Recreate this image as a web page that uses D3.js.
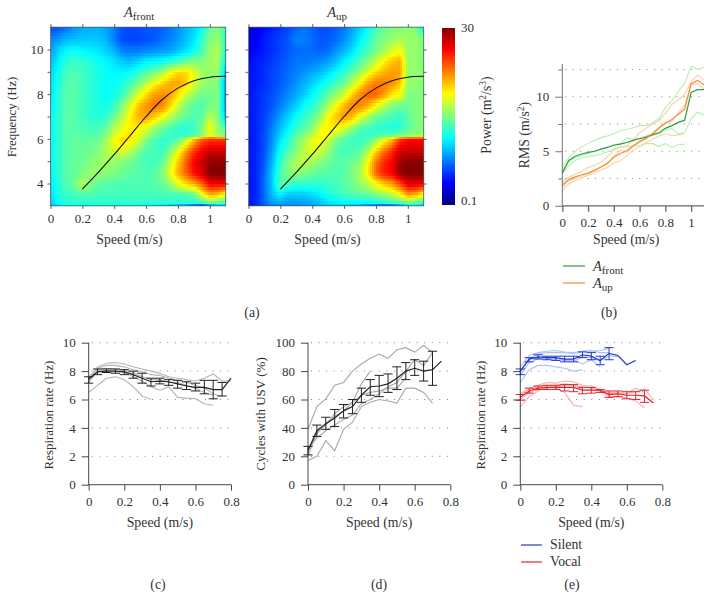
<!DOCTYPE html>
<html><head><meta charset="utf-8">
<script src="https://cdn.jsdelivr.net/npm/d3@7"></script>
<style>html,body{margin:0;padding:0;background:#fff}svg{display:block}text{font-family:"Liberation Serif",serif;fill:#333}</style>
</head><body><svg id="c" width="713" height="599"></svg>
<script>
// ---- Heat maps: colour level (percent of the log colour bar) by frequency row and speed column
const heatSpeeds = d3.range(0, 23).map(i => i * 0.05);
const heatFreqs = [11,10.5,10,9.5,9,8.5,8,7.5,7,6.5,6.2,6,5.5,5,4.5,4,3.5,3.2,3];
const levelsFront = [
[20,21,24,27,29,30,30,29,25,20,19,20,21,21,22,24,27,30,33,38,48,50,42],
[25,27,30,31,32,32,32,30,25,20,19,19,20,21,23,25,28,31,35,42,50,52,42],
[28,33,37,38,37,36,35,33,30,25,24,24,25,26,27,28,31,34,38,44,52,55,40],
[30,36,41,43,42,41,39,37,35,32,31,33,36,37,38,40,43,46,50,50,53,54,36],
[32,39,44,45,44,42,40,38,37,37,38,41,45,48,53,61,66,66,60,53,52,52,30],
[33,40,45,46,44,42,40,38,38,40,44,49,56,62,67,71,72,68,59,53,51,50,27],
[34,41,46,46,44,42,40,38,39,43,50,59,66,72,74,72,65,57,52,48,49,50,27],
[35,41,46,46,44,42,40,39,43,50,59,68,73,76,75,67,57,50,46,45,49,50,27],
[36,42,46,46,44,42,41,42,48,55,63,70,72,68,62,55,50,47,45,47,56,50,30],
[36,42,46,46,45,44,44,47,55,60,64,63,60,53,48,45,42,41,43,50,62,52,46],
[36,42,46,46,46,45,46,50,58,63,65,61,55,49,45,43,43,42,44,50,60,52,48],
[36,42,46,47,47,47,48,53,62,67,65,60,50,45,42,42,45,55,68,78,82,82,82],
[36,42,46,47,48,48,50,55,58,60,56,50,45,44,43,50,60,72,82,88,92,92,92],
[36,42,46,47,48,50,52,53,52,50,48,46,44,44,46,56,68,78,88,93,98,98,98],
[35,42,46,47,50,52,52,51,50,48,47,46,45,46,50,60,70,78,87,92,100,100,100],
[34,41,45,48,55,50,47,46,45,45,45,45,45,46,47,52,60,66,70,78,88,88,88],
[33,40,43,44,45,45,44,44,44,44,44,44,44,44,44,44,44,45,47,60,70,68,60],
[32,38,41,42,42,42,42,42,42,42,42,42,42,42,42,42,42,42,42,44,50,48,44],
[30,35,38,38,38,38,38,38,38,38,38,38,36,35,33,30,28,24,18,12,22,28,30]];
const levelsUp = [
[8,10,13,15,17,19,22,24,22,20,20,22,24,28,33,38,44,48,50,50,52,50,36],
[10,12,15,17,19,21,25,25,23,21,21,23,26,31,36,41,47,50,52,54,52,52,50],
[12,13,15,17,19,21,23,23,23,22,23,27,30,34,40,44,49,53,58,62,52,52,50],
[13,15,16,18,20,22,24,24,25,26,28,31,36,40,45,50,56,63,68,70,52,52,50],
[14,15,17,19,21,23,25,27,29,31,34,38,42,47,52,60,66,70,72,72,52,52,50],
[14,15,17,19,21,24,27,30,33,37,40,44,48,56,64,72,76,76,74,68,52,52,50],
[14,16,18,20,23,26,29,33,37,41,47,52,58,67,74,78,78,72,64,62,50,50,50],
[14,16,18,21,25,29,33,38,41,46,54,62,70,75,75,70,62,55,50,48,48,50,50],
[14,16,19,23,28,33,38,42,46,52,62,68,72,70,60,54,48,46,44,42,46,50,50],
[14,16,19,25,31,36,42,46,50,60,64,64,60,52,46,44,42,41,40,42,46,50,50],
[14,16,20,26,33,39,46,50,55,63,62,56,50,46,43,43,44,46,46,48,50,52,52],
[14,16,20,26,35,41,48,54,60,64,58,50,46,44,43,44,50,60,68,82,87,87,87],
[14,16,20,28,38,44,50,56,60,58,52,46,44,44,46,54,66,76,83,92,92,92,92],
[14,16,21,30,42,50,55,56,54,51,48,46,46,48,52,62,76,84,88,97,99,99,99],
[14,16,22,32,44,50,52,50,48,46,46,45,46,50,54,64,78,85,88,98,100,100,100],
[14,16,23,32,46,44,42,42,42,42,43,44,46,48,52,56,62,68,72,80,90,90,88],
[14,16,23,31,36,32,32,32,34,36,40,42,44,45,46,47,50,52,55,62,72,70,60],
[14,16,22,28,30,28,28,29,30,32,35,36,38,38,38,38,40,42,44,46,50,48,44],
[13,15,20,24,26,26,26,27,28,30,31,32,32,30,28,24,20,16,18,24,32,32,28]];
const fitSpeed = [0.2,0.3,0.4,0.5,0.6,0.7,0.8,0.9,1.0,1.1];
const fitFreq = [3.75,4.5,5.3,6.15,7.0,7.75,8.27,8.6,8.76,8.8];

// ---- Panel (b) RMS
const rmsSpeed = d3.range(0, 23).map(i => i * 0.05);
const rmsFront = [3.0,4.15,4.55,4.75,4.9,5.0,5.2,5.35,5.55,5.65,5.8,6.0,6.15,6.3,6.5,6.7,7.1,7.35,7.65,7.85,10.4,10.65,10.65];
const rmsFrontLight = [
[3.6,4.4,5.0,5.4,5.7,6.0,6.25,6.4,6.6,6.9,7.0,7.15,7.35,7.35,7.6,8.0,9.0,9.6,10.5,11.2,12.8,12.5,12.7],
[2.9,3.7,4.15,4.4,4.5,4.6,4.75,4.95,5.2,5.4,5.4,5.5,5.5,5.7,5.7,5.45,5.7,5.35,5.6,5.65],
[3.3,4.0,4.4,4.6,4.8,5.0,5.2,5.4,5.6,5.7,6.2,6.1,6.2,6.4,6.6,6.6,6.9,7.1,6.6,6.7,8.0,8.6,8.3]];
const rmsUp = [1.9,2.4,2.65,2.85,3.0,3.25,3.55,3.9,4.45,4.8,5.05,5.5,5.9,6.2,6.6,7.15,7.55,7.9,8.4,8.85,11.2,11.5,11.1];
const rmsUpLight = [
[2.2,2.6,2.9,3.15,3.5,3.7,4.0,4.5,5.1,5.4,5.5,6.0,6.7,7.1,7.5,7.8,8.5,9.3,9.7,10.2,11.4,12,11.5],
[1.4,2.0,2.3,2.55,2.8,3.0,3.3,3.5,3.95,4.1,4.6,5.1,5.4,5.8,6.1,6.4,6.6,6.45,6.5,6.6],
[1.7,2.3,2.5,2.7,2.95,3.2,3.55,3.85,4.5,5.1,4.9,5.4,5.8,6.1,6.5,7.0,7.7,7.7,8.5,9.2,11.1,11.2,10.7]];

// ---- Panel (c) respiration rate
const stepSpeed = d3.range(0, 17).map(i => i * 0.05);
const respMean = [7.45,7.95,8.0,8.0,7.95,7.75,7.5,7.25,7.3,7.25,7.1,6.95,6.85,6.85,6.7,6.7,7.5];
const respLow = [7.15,7.75,7.9,7.85,7.75,7.5,7.15,6.95,7.1,7.0,6.8,6.7,6.6,6.4,6.05,6.25];
const respHigh = [7.6,8.15,8.15,8.15,8.1,8.0,7.85,7.5,7.5,7.4,7.35,7.25,7.15,7.35,7.35,7.2];
const respGrey = [
[6.5,7.0,7.5,7.6,7.4,6.9,6.25,6.0],
[7.2,8.0,8.05,8.0,7.9,7.6,7.3,6.9,6.65,6.9,6.15,6.1,6.05,5.7,5.6],
[7.5,8.3,8.55,8.6,8.5,8.3,8.15,8.0,7.85,7.6,7.5,7.4,7.3,7.5,7.8,7.3,7.3],
[7.6,8.2,8.4,8.4,8.3,8.1,7.95,7.75,7.7,7.5,7.35,7.2,7.0,6.8,6.4,6.2],
[7.4,8.1,8.2,8.15,8.05,7.9,7.6,7.4,7.4,7.2,7.2,7.0,6.8,6.5,6.3]];

// ---- Panel (d) cycles with USV
const usvMean = [24,38,43,47,52,55,63,69,69.5,71,75,80,82,80,81,87];
const usvLow = [21,34,39,41,47,50,58,63,62,65,67,74,77,73,70];
const usvHigh = [27,42,47.5,53,56.5,60,68,74,77,78,83,86,88,87,94];
const usvGrey = [
[39,55,60.5,70,72,80,85,89,92,89,95,96.5,93.4,98,93],
[17,20,31,24,39,44,55,58,60,59,57.5,68,68,65,57.5],
[20,37,42,50,55,58,71,80],
[25,33,38,42,46,49,57,60,64,69,72,80,88,84,93],
[24,36,43,48,52,58,63,65,66,68,68,75]];

// ---- Panel (e) silent and vocal
const silentMean = [8.0,8.85,9.0,8.95,8.95,8.85,8.85,9.15,9.05,8.75,9.25,9.1,8.45,8.75];
const silentLow = [7.75,8.65,8.85,8.8,8.75,8.65,8.65,8.95,8.8,8.45,8.8];
const silentHigh = [8.15,8.95,9.15,9.05,9.05,9.05,9.05,9.35,9.3,9.05,9.65];
const silentLight = [
[7.2,8.1,8.4,8.4,8.3,8.2,8.0,8.1],
[7.9,8.9,9.2,9.3,9.3,9.3,9.2,9.4,9.45,9.3,9.3],
[8.3,9.1,9.3,9.4,9.45,9.35,9.3,9.4,9.4,9.45,9.6],
[7.7,8.6,8.85,8.9,8.9,8.8,8.8,8.5,8.8,8.3],
[8.0,8.8,8.95,8.85,8.8,8.75,8.7,9.0,8.95,8.7,9.1,9.0]];
const vocalMean = [6.15,6.6,6.8,6.85,6.85,6.85,6.85,6.65,6.65,6.65,6.35,6.4,6.3,6.3,6.25,5.75];
const vocalLow = [5.95,6.45,6.7,6.7,6.7,6.6,6.55,6.4,6.45,6.5,6.15,6.2,6.05,6.0,5.8];
const vocalHigh = [6.35,6.8,6.95,7.0,7.0,7.05,7.05,6.85,6.85,6.7,6.6,6.6,6.55,6.55,6.65];
const vocalLight = [
[5.5,6.2,6.6,7.0,6.8,6.5,5.6,5.5],
[6.4,6.8,7.0,7.2,7.15,7.3,7.25,7.0,6.95,6.7,6.5,6.5,6.4,6.8,6.5],
[6.0,6.5,6.7,6.8,6.9,7.0,7.0,6.7,6.7,6.6,6.2,6.2,6.1,5.9,5.4],
[6.3,6.7,6.9,7.0,7.0,7.1,7.0,6.9,6.8,6.65,6.4,6.5,6.4,6.55,6.75,6.0]];

// ---- Labels
const speedTicksHeat = [0,0.2,0.4,0.6,0.8,1];
const speedTicksStep = [0,0.2,0.4,0.6,0.8];
const colourStops = [0,0.125,0.375,0.625,0.875,1];
const colourNames = ['#00007f','#0000ff','#00ffff','#ffff00','#ff0000','#7f0000'];

const svg = d3.select('#c');
const jet = d3.scaleLinear().domain(colourStops).range(colourNames).clamp(true);
const AX = '#333', FS = 13.8, TS = 13, YS = 12.9;

function txt(g, x, y, s, o = {}) {
  const t = g.append('text').attr('x', x).attr('y', y).attr('font-size', o.size || FS)
    .attr('text-anchor', o.anchor || 'middle').text(s);
  if (o.rotate) t.attr('transform', `rotate(-90 ${x} ${y})`);
  return t;
}
function sym(g, x, y, sub, o = {}) {
  const t = g.append('text').attr('x', x).attr('y', y).attr('font-size', 14.5).attr('text-anchor', o.anchor || 'middle');
  t.append('tspan').attr('font-style', 'italic').text('A');
  t.append('tspan').attr('font-size', 11).attr('dy', 3).text(sub);
}
function styleAxis(g, w = 0.9, color = AX) {
  g.selectAll('path,line').attr('stroke', color).attr('stroke-width', w);
  g.selectAll('text').attr('font-size', TS).attr('fill', '#333').attr('font-family', '"Liberation Serif",serif');
}
function heat(x0, levels, title, withY) {
  const x = d3.scaleLinear().domain([0, 1]).range([x0, x0 + 159.3]);
  const y = d3.scaleLinear().domain([4, 10]).range([183.5, 49.5]);
  const g = svg.append('g');
  const left = x(0), right = x(1.1), top = y(11), bot = y(3);
  const sx = d3.scaleLinear().domain(heatSpeeds).range(d3.range(heatSpeeds.length));
  const sf = d3.scaleLinear().domain(heatFreqs).range(d3.range(heatFreqs.length));
  const level = (s, f) => {
    const a = sx(s), b = sf(f), i = Math.min(Math.floor(a), heatSpeeds.length - 2), j = Math.min(Math.floor(b), heatFreqs.length - 2);
    const u = a - i, v = b - j;
    return (levels[j][i] * (1 - u) + levels[j][i + 1] * u) * (1 - v) + (levels[j + 1][i] * (1 - u) + levels[j + 1][i + 1] * u) * v;
  };
  const dS = 0.0125, dF = 0.125, cells = [];
  d3.range(0, 88).forEach(i => d3.range(0, 64).forEach(j => cells.push({ s: i * dS, f: 3 + j * dF })));
  g.append('g').attr('shape-rendering', 'crispEdges').selectAll('rect').data(cells).join('rect')
    .attr('x', d => x(d.s)).attr('y', d => y(d.f + dF))
    .attr('width', x(dS) - x(0) + 0.6).attr('height', y(3) - y(3 + dF) + 0.6)
    .attr('fill', d => jet(level(d.s + dS / 2, d.f + dF / 2) / 100));
  g.append('rect').attr('x', left).attr('y', top).attr('width', right - left).attr('height', bot - top).attr('fill', 'none').attr('stroke', '#4a5a55').attr('stroke-width', 0.8);
  g.append('path').datum(fitSpeed.map((s, i) => [s, fitFreq[i]]))
    .attr('d', d3.line().x(d => x(d[0])).y(d => y(d[1])).curve(d3.curveCatmullRom)).attr('fill', 'none').attr('stroke', '#111').attr('stroke-width', 1.1);
  const xa = d3.scaleLinear().domain([0, 1.1]).range([left, right]);
  const ya = d3.scaleLinear().domain([3, 11]).range([bot, top]);
  const b = g.append('g').attr('transform', `translate(0,${bot})`).call(d3.axisBottom(xa).tickValues(speedTicksHeat).tickFormat(d3.format('~g')).tickSize(3).tickPadding(5));
  const t = g.append('g').attr('transform', `translate(0,${top})`).call(d3.axisTop(xa).tickValues(speedTicksHeat).tickFormat('').tickSize(3));
  const l = g.append('g').attr('transform', `translate(${left},0)`).call(d3.axisLeft(ya).tickValues(d3.range(4, 11)).tickFormat(withY ? (d => d % 2 ? '' : d) : '').tickSize(3).tickPadding(4));
  const r = g.append('g').attr('transform', `translate(${right},0)`).call(d3.axisRight(ya).tickValues(d3.range(4, 11)).tickFormat('').tickSize(3));
  [b, t, l, r].forEach(a => { styleAxis(a, 0.8); a.select('.domain').remove(); });
  txt(g, x0 + 79, 244, 'Speed (m/s)');
  sym(g, (left + right) / 2 + 1, 17, title);
}
heat(50.5, levelsFront, 'front', true);
heat(248.5, levelsUp, 'up', false);
txt(svg, 16, 117, 'Frequency (Hz)', { rotate: true, size: 12.8 });

// colour bar
const cbY = d3.scaleLinear().domain([0, 1]).range([205, 28]);
const cb = svg.append('g');
cb.append('g').attr('shape-rendering', 'crispEdges').selectAll('rect').data(d3.range(0, 1, 1 / 177)).join('rect')
  .attr('x', 442).attr('width', 13.3).attr('y', d => cbY(d) - 1.4).attr('height', 1.6).attr('fill', d => jet(d));
const cbScale = d3.scaleLog().domain([0.1, 30]).range([205, 28]);
[0.1, 30].forEach(v => txt(cb, 461, cbScale(v) + (v === 30 ? 4 : 0), v, { anchor: 'start', size: TS }));
{
  const t = txt(svg, 491, 115, '', { rotate: true });
  t.append('tspan').text('Power (m');
  t.append('tspan').attr('font-size', 9.5).attr('dy', -5).text('2');
  t.append('tspan').attr('dy', 5).text('/s');
  t.append('tspan').attr('font-size', 9.5).attr('dy', -5).text('3');
  t.append('tspan').attr('dy', 5).text(')');
}

// Line panels
function panel(o) {
  const x = d3.scaleLinear().domain(o.xDomain).range(o.xRange);
  const y = d3.scaleLinear().domain(o.yDomain).range(o.yRange);
  const g = svg.append('g');
  g.append('g').selectAll('line').data(o.grid).join('line')
    .attr('x1', x(0) + 3).attr('x2', o.xRange[1]).attr('y1', d => y(d)).attr('y2', d => y(d))
    .attr('stroke', '#808080').attr('stroke-width', 1).attr('stroke-dasharray', `1 ${o.gap}`);
  const line = d3.line().x(d => x(d[0])).y(d => y(d[1]));
  const pts = (arr, xs) => arr.map((v, i) => [xs[i], v]);
  o.light.forEach(s => s.rows.forEach(r => g.append('path').datum(pts(r, o.xs)).attr('d', line)
    .attr('fill', 'none').attr('stroke', s.color).attr('stroke-width', 1.1)));
  o.main.forEach(s => {
    g.append('path').datum(pts(s.values, o.xs)).attr('d', line).attr('fill', 'none').attr('stroke', s.color).attr('stroke-width', s.width || 1.2);
    if (s.low) {
      const eb = g.append('g').attr('stroke', s.color).attr('stroke-width', 1);
      s.low.forEach((lo, i) => {
        const X = x(o.xs[i]), hi = s.high[i];
        eb.append('line').attr('x1', X).attr('x2', X).attr('y1', y(lo)).attr('y2', y(hi));
        [lo, hi].forEach(v => eb.append('line').attr('x1', X - 4.6).attr('x2', X + 4.6).attr('y1', y(v)).attr('y2', y(v)));
      });
    }
  });
  const ya = g.append('g').attr('transform', `translate(${x(0)},0)`).call(d3.axisLeft(y).tickValues(o.yTicks).tickSize(o.yTick).tickPadding(6));
  styleAxis(ya, 0.9, o.axisColor || AX);
  ya.select('.domain').attr('d', `M0,${o.yRange[0]}V${o.yRange[1]}`);
  if (o.minor) g.append('g').attr('transform', `translate(${x(0)},0)`).call(d3.axisLeft(y).tickValues(o.minor).tickSize(4).tickFormat('')).call(a => { a.select('.domain').remove(); styleAxis(a, 0.9, o.axisColor || AX); });
  const xa = g.append('g').attr('transform', `translate(0,${y(0)})`).call(d3.axisBottom(x).tickValues(o.xTicks).tickFormat(d3.format('~g')).tickSize(6).tickPadding(6));
  styleAxis(xa, o.xw || 0.9, o.axisColor || AX);
  xa.select('.domain').attr('d', `M${o.xRange[0]},0H${o.xRange[1]}`);
  txt(g, (o.xRange[0] + o.xRange[1]) / 2 - (o.xlabDx || 0), o.xlabY, 'Speed (m/s)');
  return g;
}
const gb = panel({
  xDomain: [0, 1.1], xRange: [562.3, 704], yDomain: [0, 13], yRange: [205.8, 64], xs: rmsSpeed, gap: 6.4,
  grid: [2.5, 5, 7.5, 10, 12.5], yTicks: [0, 5, 10], minor: [2.5, 7.5, 12.5], yTick: 7, xTicks: speedTicksHeat, xw: 1.3, axisColor: '#666', xlabY: 244, xlabDx: 7,
  light: [{ color: '#b6f0b0', rows: rmsFrontLight }, { color: '#f9cfa6', rows: rmsUpLight }],
  main: [{ color: '#2f9a3f', values: rmsFront }, { color: '#ee8f3a', values: rmsUp }]
});
{
  const t = txt(svg, 529, 135, '', { rotate: true });
  t.append('tspan').text('RMS (m/s');
  t.append('tspan').attr('font-size', 9.5).attr('dy', -5).text('2');
  t.append('tspan').attr('dy', 5).text(')');
}
const legend = (g, x1, x2, y, color) => g.append('line').attr('x1', x1).attr('x2', x2).attr('y1', y).attr('y2', y).attr('stroke', color).attr('stroke-width', 1.2);
legend(svg, 563, 585, 266, '#2f9a3f');
legend(svg, 563, 585, 283, '#ee8f3a');
sym(svg, 593, 271, 'front', { anchor: 'start' });
sym(svg, 593, 288, 'up', { anchor: 'start' });

const respCommon = { xDomain: [0, 0.8], yDomain: [0, 10], yRange: [484.7, 342.7], grid: [2, 4, 6, 8, 10], yTicks: [0, 2, 4, 6, 8, 10], yTick: 7, xTicks: speedTicksStep, xlabY: 527, xs: stepSpeed, gap: 6.55 };
panel({ ...respCommon, xRange: [88.7, 231],
  light: [{ color: '#b5b5b5', rows: respGrey }],
  main: [{ color: '#222', values: respMean, low: respLow, high: respHigh }] });
txt(svg, 53, 415, 'Respiration rate (Hz)', { rotate: true, size: YS });
panel({ ...respCommon, xRange: [308, 450.3], yDomain: [0, 100], grid: [20, 40, 60, 80, 100], yTicks: [0, 20, 40, 60, 80, 100],
  light: [{ color: '#a8a8a8', rows: usvGrey }],
  main: [{ color: '#222', values: usvMean, low: usvLow, high: usvHigh }] });
txt(svg, 265, 414, 'Cycles with USV (%)', { rotate: true, size: 13 });
panel({ ...respCommon, xRange: [520.3, 662.3],
  light: [{ color: '#a9c4f0', rows: silentLight }, { color: '#f6b0b0', rows: vocalLight }],
  main: [{ color: '#2438d0', values: silentMean, low: silentLow, high: silentHigh }, { color: '#e0262c', values: vocalMean, low: vocalLow, high: vocalHigh }] });
txt(svg, 485, 415, 'Respiration rate (Hz)', { rotate: true, size: YS });
legend(svg, 521, 542, 545, '#2438d0');
legend(svg, 521, 542, 562, '#e0262c');
txt(svg, 550, 549, 'Silent', { anchor: 'start' });
txt(svg, 550, 566, 'Vocal', { anchor: 'start' });

[['(a)', 252, 317], ['(b)', 609, 317], ['(c)', 158, 589], ['(d)', 379, 589], ['(e)', 572, 589]].forEach(d => txt(svg, d[1], d[2], d[0]));
</script></body></html>
